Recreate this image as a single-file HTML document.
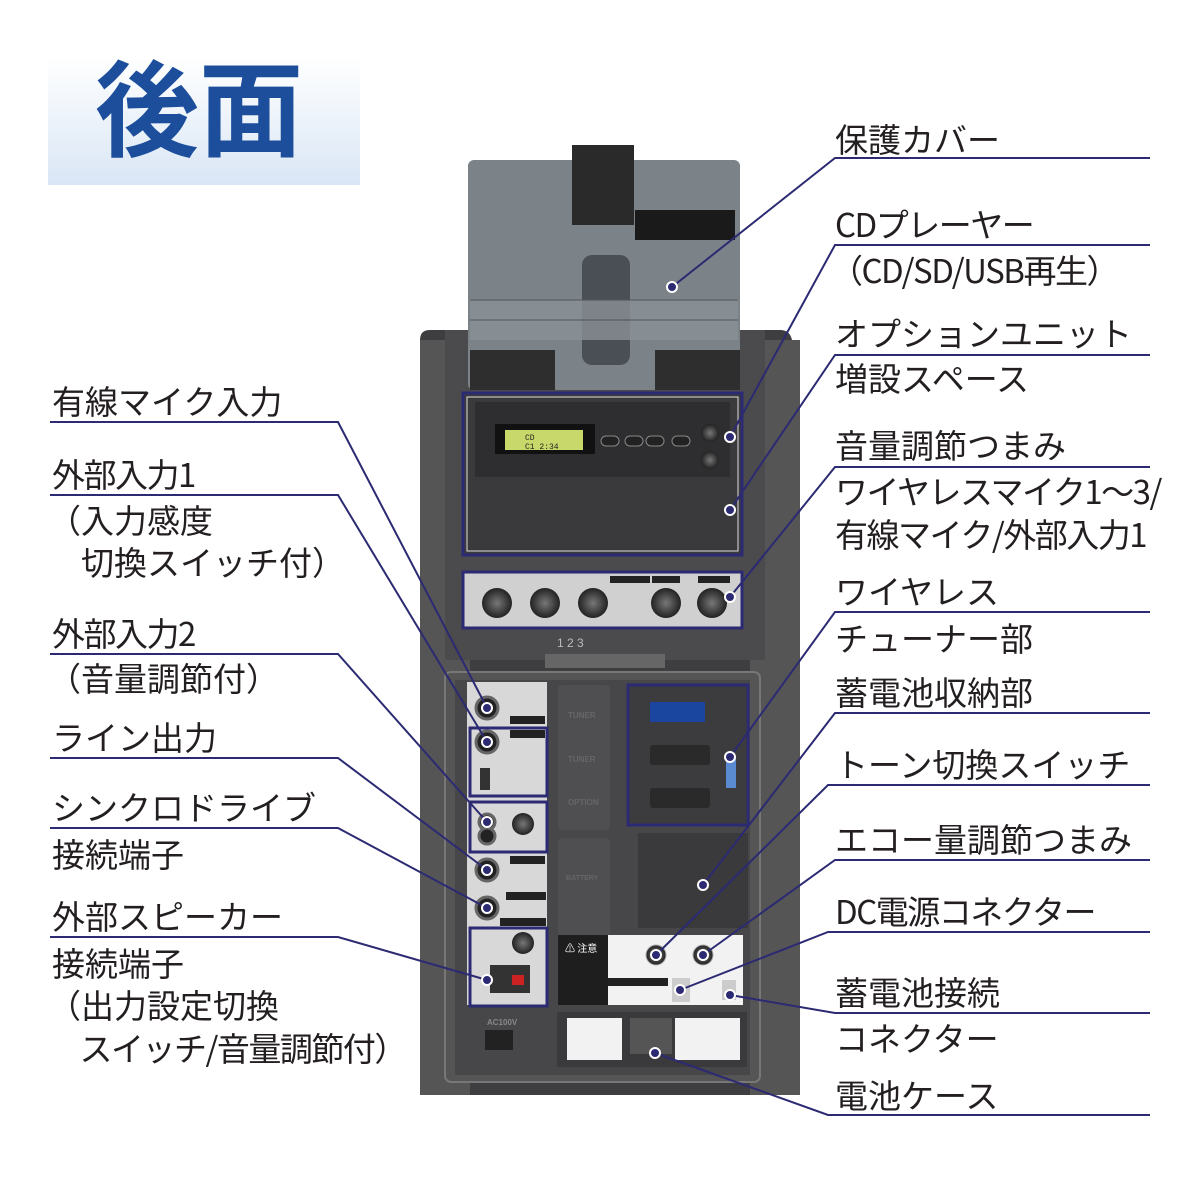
<!DOCTYPE html>
<html><head><meta charset="utf-8"><style>
html,body{margin:0;padding:0;background:#fff}
svg{display:block}
.t{font-family:"Noto Sans CJK JP","Liberation Sans",sans-serif;font-size:33px;fill:#231f20}
.n{letter-spacing:-1.5px}
.l{stroke:#2b2a72;stroke-width:2;fill:none}
.d{fill:#2b2a72;stroke:#fff;stroke-width:2}
</style></head><body>
<svg width="1200" height="1200" viewBox="0 0 1200 1200" xmlns="http://www.w3.org/2000/svg">
<defs>
<linearGradient id="tg" x1="0" y1="0" x2="0" y2="1"><stop offset="0" stop-color="#fff"/><stop offset="1" stop-color="#d9e6f5"/></linearGradient>
<radialGradient id="kn"><stop offset="0" stop-color="#777"/><stop offset="1" stop-color="#222"/></radialGradient>
</defs>
<rect x="48" y="58" width="312" height="127" fill="url(#tg)"/>
<text x="95" y="148" style="font-family:'Noto Sans CJK JP',sans-serif;font-size:104px;font-weight:bold;fill:#1c4e9c">後面</text>

<path d="M420 340 Q420 330 430 330 L780 330 Q790 330 792 340 L800 1095 L420 1095 Z" fill="#3e3e40"/>
<rect x="420" y="340" width="50" height="755" fill="#555"/>
<rect x="750" y="340" width="50" height="755" fill="#555"/>
<rect x="445" y="330" width="320" height="330" fill="#4b4b4d"/>
<rect x="468" y="160" width="272" height="230" rx="6" fill="#7b8288"/>
<rect x="572" y="145" width="62" height="80" fill="#2a2a2a"/>
<rect x="635" y="210" width="100" height="30" fill="#1a1a1a"/>
<rect x="582" y="255" width="48" height="110" rx="10" fill="#4a4f55"/>
<rect x="470" y="300" width="268" height="40" fill="#8a9096" opacity=".8"/>
<g stroke="#555" stroke-width="1">
<line x1="470" y1="300" x2="738" y2="300"/><line x1="470" y1="320" x2="738" y2="320"/>
</g>
<rect x="470" y="350" width="85" height="40" fill="#2e2e2e"/>
<rect x="655" y="350" width="85" height="40" fill="#2e2e2e"/>
<rect x="463" y="393" width="279" height="162" fill="#3a3a3c" stroke="#2b2a72" stroke-width="3"/>
<rect x="467" y="397" width="271" height="154" fill="none" stroke="#ddd" stroke-width="1"/>
<rect x="475" y="402" width="255" height="75" fill="#2e2e30"/>
<rect x="495" y="424" width="100" height="30" fill="#111"/>
<rect x="505" y="430" width="78" height="20" fill="#c8d86a"/>
<text x="525" y="440" style="font-family:'Liberation Mono',monospace;font-size:8px;fill:#222">CD</text>
<text x="525" y="449" style="font-family:'Liberation Mono',monospace;font-size:8px;fill:#222">C1   2:34</text>
<g fill="#222" stroke="#888"><rect x="601" y="436" width="18" height="10" rx="5"/><rect x="625" y="436" width="18" height="10" rx="5"/><rect x="646" y="436" width="18" height="10" rx="5"/><rect x="672" y="436" width="18" height="10" rx="5"/></g>
<circle cx="710" cy="433" r="9" fill="url(#kn)"/><circle cx="710" cy="460" r="9" fill="url(#kn)"/>
<rect x="463" y="572" width="279" height="56" fill="#d0d0d0" stroke="#2b2a72" stroke-width="3"/>
<g fill="url(#kn)"><circle cx="497" cy="603" r="15"/><circle cx="545" cy="603" r="15"/><circle cx="593" cy="603" r="15"/><circle cx="666" cy="603" r="15"/><circle cx="712" cy="603" r="15"/></g>
<rect x="610" y="576" width="40" height="7" fill="#222"/><rect x="652" y="576" width="28" height="7" fill="#222"/><rect x="698" y="576" width="32" height="7" fill="#222"/>
<text x="557" y="647" style="font-family:'Liberation Sans',sans-serif;font-size:12px;fill:#bbb">1   2   3</text>
<rect x="545" y="654" width="120" height="14" fill="#666"/>
<rect x="445" y="672" width="315" height="410" rx="6" fill="#555" stroke="#777" stroke-width="2"/>
<rect x="455" y="680" width="295" height="395" fill="#474749"/>
<rect x="467" y="682" width="80" height="323" fill="#d8d8d8"/>
<rect x="470" y="728" width="77" height="68" fill="none" stroke="#2b2a72" stroke-width="3"/>
<rect x="470" y="802" width="77" height="50" fill="#d8d8d8" stroke="#2b2a72" stroke-width="3"/>
<rect x="470" y="928" width="77" height="78" fill="#d8d8d8" stroke="#2b2a72" stroke-width="3"/>
<g fill="#222" stroke="#666" stroke-width="3"><circle cx="487" cy="708" r="11"/><circle cx="487" cy="742" r="11"/><circle cx="487" cy="822" r="8"/><circle cx="487" cy="836" r="8"/><circle cx="487" cy="870" r="11"/><circle cx="487" cy="908" r="11"/></g>
<circle cx="523" cy="824" r="11" fill="url(#kn)"/><circle cx="523" cy="943" r="11" fill="url(#kn)"/>
<rect x="490" y="965" width="40" height="28" fill="#333"/><rect x="512" y="975" width="12" height="10" fill="#c22"/>
<rect x="480" y="768" width="10" height="22" fill="#333"/>
<g fill="#222"><rect x="510" y="716" width="35" height="8"/><rect x="510" y="730" width="35" height="8"/><rect x="510" y="856" width="35" height="8"/><rect x="506" y="892" width="40" height="8"/><rect x="500" y="918" width="46" height="8"/></g>
<rect x="558" y="685" width="52" height="145" rx="4" fill="#4f4f51"/>
<rect x="558" y="838" width="52" height="100" rx="4" fill="#4f4f51"/>
<text x="568" y="718" style="font-family:'Liberation Sans',sans-serif;font-size:8px;fill:#666;font-weight:bold">TUNER</text>
<text x="568" y="762" style="font-family:'Liberation Sans',sans-serif;font-size:8px;fill:#666;font-weight:bold">TUNER</text>
<text x="568" y="805" style="font-family:'Liberation Sans',sans-serif;font-size:8px;fill:#666;font-weight:bold">OPTION</text>
<text x="566" y="880" style="font-family:'Liberation Sans',sans-serif;font-size:7px;fill:#666;font-weight:bold">BATTERY</text>
<rect x="628" y="685" width="120" height="140" fill="#3c3c3e" stroke="#2b2a72" stroke-width="3"/>
<rect x="650" y="702" width="55" height="20" fill="#1a46a0"/>
<rect x="650" y="745" width="60" height="20" rx="3" fill="#2a2a2a"/><rect x="650" y="788" width="60" height="20" rx="3" fill="#2a2a2a"/>
<rect x="726" y="758" width="10" height="30" fill="#5a8ad0"/>
<rect x="638" y="833" width="110" height="95" fill="#3a3a3c"/>
<rect x="558" y="935" width="185" height="70" fill="#f2f2f2"/>
<rect x="558" y="935" width="50" height="70" fill="#1e1e1e"/>
<text x="565" y="952" style="font-family:'Noto Sans CJK JP',sans-serif;font-size:10px;fill:#fff">⚠ 注意</text>
<rect x="608" y="978" width="60" height="8" fill="#222"/>
<circle cx="656" cy="955" r="10" fill="url(#kn)" stroke="#aaa"/><circle cx="703" cy="955" r="10" fill="url(#kn)" stroke="#aaa"/>
<rect x="672" y="978" width="18" height="24" fill="#ccc"/><rect x="722" y="980" width="14" height="20" fill="#ccc"/>
<rect x="557" y="1012" width="190" height="55" fill="#3a3a3c"/>
<rect x="567" y="1018" width="55" height="42" fill="#f2f2f2"/><rect x="675" y="1018" width="65" height="42" fill="#f2f2f2"/>
<rect x="630" y="1018" width="42" height="36" fill="#555"/>
<text x="487" y="1025" style="font-family:'Liberation Sans',sans-serif;font-size:8px;fill:#888;font-weight:bold">AC100V</text>
<rect x="485" y="1030" width="28" height="20" fill="#222"/>

<g class="l">
<path d="M1150 158 H835 L672 287"/>
<path d="M1150 245 H835 L730 437"/>
<path d="M1150 355 H835 L730 510"/>
<path d="M1150 467 H835 L730 597"/>
<path d="M1150 612 H835 L730 757"/>
<path d="M1150 713 H835 L703 885"/>
<path d="M1150 785 H828 L656 955"/>
<path d="M1150 860 H835 L703 955"/>
<path d="M1150 932 H828 L680 990"/>
<path d="M1150 1013 H835 L730 995"/>
<path d="M1150 1115 H828 L655 1053"/>
<path d="M50 422 H338 L487 708"/>
<path d="M50 495 H338 L487 742"/>
<path d="M50 654 H338 L487 822"/>
<path d="M50 758 H338 L487 870"/>
<path d="M50 828 H338 L487 908"/>
<path d="M50 937 H338 L487 980"/>
</g>
<g class="d">
<circle cx="672" cy="287" r="5"/><circle cx="730" cy="437" r="5"/><circle cx="730" cy="510" r="5"/><circle cx="730" cy="597" r="5"/><circle cx="730" cy="757" r="5"/><circle cx="703" cy="885" r="5"/><circle cx="656" cy="955" r="5"/><circle cx="703" cy="955" r="5"/><circle cx="680" cy="990" r="5"/><circle cx="730" cy="995" r="5"/><circle cx="655" cy="1053" r="5"/>
<circle cx="487" cy="708" r="5"/><circle cx="487" cy="742" r="5"/><circle cx="487" cy="822" r="5"/><circle cx="487" cy="870" r="5"/><circle cx="487" cy="908" r="5"/><circle cx="487" cy="980" r="5"/>
</g>

<text class="t" x="835" y="152">保護カバー</text>
<text class="t n" x="835" y="237">CDプレーヤー</text>
<text class="t n" x="830" y="283">（CD/SD/USB再生）</text>
<text class="t" x="835" y="346">オプションユニット</text>
<text class="t" x="835" y="391">増設スペース</text>
<text class="t" x="835" y="458">音量調節つまみ</text>
<text class="t n" x="835" y="504">ワイヤレスマイク1～3/</text>
<text class="t n" x="835" y="547">有線マイク/外部入力1</text>
<text class="t" x="835" y="604">ワイヤレス</text>
<text class="t" x="835" y="651">チューナー部</text>
<text class="t" x="835" y="705">蓄電池収納部</text>
<text class="t" x="835" y="777">トーン切換スイッチ</text>
<text class="t" x="835" y="852">エコー量調節つまみ</text>
<text class="t n" x="835" y="924">DC電源コネクター</text>
<text class="t" x="835" y="1005">蓄電池接続</text>
<text class="t" x="835" y="1051">コネクター</text>
<text class="t" x="835" y="1108">電池ケース</text>
<text class="t" x="52" y="414">有線マイク入力</text>
<text class="t n" x="52" y="487">外部入力1</text>
<text class="t" x="48" y="533">（入力感度</text>
<text class="t" x="48" y="575">　切換スイッチ付）</text>
<text class="t n" x="52" y="646">外部入力2</text>
<text class="t" x="48" y="691">（音量調節付）</text>
<text class="t" x="52" y="750">ライン出力</text>
<text class="t" x="52" y="820">シンクロドライブ</text>
<text class="t" x="52" y="867">接続端子</text>
<text class="t" x="52" y="929">外部スピーカー</text>
<text class="t" x="52" y="976">接続端子</text>
<text class="t" x="48" y="1018">（出力設定切換</text>
<text class="t n" x="48" y="1061">　スイッチ/音量調節付）</text>
</svg>
</body></html>
